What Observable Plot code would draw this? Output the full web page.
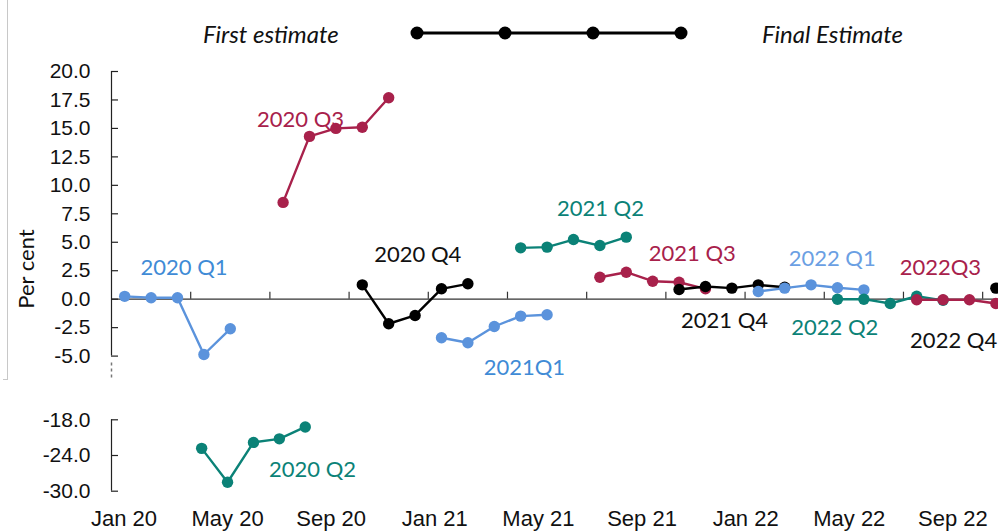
<!DOCTYPE html>
<html><head><meta charset="utf-8">
<script src="https://cdn.jsdelivr.net/npm/d3@7"></script>
<script src="https://cdn.jsdelivr.net/npm/@observablehq/plot@0.6"></script>
<style>
body{margin:0;background:#fff;}
#wrap{position:relative;width:998px;height:531px;overflow:hidden;background:#fff;font-family:Lato,sans-serif;}
#border{position:absolute;left:3px;top:-1px;width:4px;height:380px;border-right:1px solid #c8c8c8;border-bottom:1px solid #c8c8c8;}
.lg{position:absolute;top:33px;transform:translateY(-50%);font-family:Lato,sans-serif;font-style:italic;font-size:24px;color:#111;white-space:nowrap;}
#legsvg{position:absolute;left:405px;top:20px;}
#ylabel{position:absolute;left:25px;top:269px;transform:translate(-50%,-50%) rotate(-90deg);font-family:Lato,sans-serif;font-size:22px;color:#111;white-space:nowrap;}
#top{position:absolute;left:0;top:55px;}
#bottom{position:absolute;left:0;top:380px;}
</style></head><body>
<div id="wrap">
  <div id="border"></div>
  <div class="lg" style="left:203px">First estimate</div>
  <svg id="legsvg" width="290" height="26">
    <line x1="12" y1="13" x2="276" y2="13" stroke="#000" stroke-width="3"/>
    <circle cx="12" cy="13" r="6.5" fill="#000"/><circle cx="100" cy="13" r="6.5" fill="#000"/>
    <circle cx="188" cy="13" r="6.5" fill="#000"/><circle cx="276" cy="13" r="6.5" fill="#000"/>
  </svg>
  <div class="lg" style="left:762px">Final Estimate</div>
  <div id="ylabel">Per cent</div>
  <div id="top"></div>
  <div id="bottom"></div>
</div>
<script>
// ---- data ----
const seriesNames = ["2020 Q1","2020 Q2","2020 Q3","2020 Q4","2021Q1","2021 Q2","2021 Q3","2021 Q4","2022 Q1","2022 Q2","2022Q3","2022 Q4"];
const seriesStart = [0, 3, 6, 9, 12, 15, 18, 21, 24, 27, 30, 33]; // month index of first estimate
const v2020Q1 = [0.25, 0.12, 0.12, -4.86, -2.6];
const v2020Q2 = [-22.8, -28.5, -21.8, -21.2, -19.2];
const v2020Q3 = [8.5, 14.3, 15.0, 15.1, 17.7];
const v2020Q4 = [1.26, -2.16, -1.43, 0.91, 1.35];
const v2021Q1 = [-3.39, -3.83, -2.4, -1.49, -1.37];
const v2021Q2 = [4.51, 4.57, 5.24, 4.71, 5.45];
const v2021Q3 = [1.93, 2.37, 1.58, 1.49, 0.91];
const v2021Q4 = [0.85, 1.11, 0.97, 1.26, 1.05];
const v2022Q1 = [0.68, 0.97, 1.26, 1.0, 0.82];
const v2022Q2 = [0.0, 0.0, -0.38, 0.26, -0.1];
const v2022Q3 = [-0.05, -0.05, -0.05, -0.38];
const v2022Q4 = [0.97];
const seriesValues = [v2020Q1, v2020Q2, v2020Q3, v2020Q4, v2021Q1, v2021Q2, v2021Q3, v2021Q4, v2022Q1, v2022Q2, v2022Q3, v2022Q4];
const seriesColors = ["#5b93dc","#0b8277","#a8214b","#000000","#5b93dc","#0b8277","#a8214b","#000000","#5b93dc","#0b8277","#a8214b","#000000"];
const labelColors = ["#3f8bd6","#0b8277","#a8214b","#111111","#3f8bd6","#0b8277","#a8214b","#111111","#6b9fe3","#0b8277","#a8214b","#111111"];
// label anchors (month index, value)
const labelMonth = [2.25, 7.28, 6.66, 11.1, 15.14, 18.02, 21.5, 22.72, 26.8, 26.9, 30.9, 31.4];
const labelValue = [2.7, -26.5, 15.7, 3.92, -6.0, 7.96, 4.0, -1.87, 3.57, -2.57, 2.78, -3.63];
const monthTicks = [0, 4, 8, 12, 16, 20, 24, 28, 32];
const monthTickLabels = ["Jan 20","May 20","Sep 20","Jan 21","May 21","Sep 21","Jan 22","May 22","Sep 22"];
const quarterBounds = [2.5, 5.5, 8.5, 11.5, 14.5, 17.5, 20.5, 23.5, 26.5, 29.5, 32.5];
const yTicksTop = [-5, -2.5, 0, 2.5, 5, 7.5, 10, 12.5, 15, 17.5, 20];
const yTicksBottom = [-30, -24, -18];
const xDomainTop = [-0.5, 33.1];
const xDomainBottom = [-0.48, 33.76];
const bottomSeries = ["2020 Q2"];

// ---- build ----
const rows = seriesNames.flatMap((s, k) => seriesValues[k].map((v, j) => ({series: s, month: seriesStart[k] + j, value: v, k})));
const labels = seriesNames.map((s, k) => ({series: s, month: labelMonth[k], value: labelValue[k], k}));

function seriesMarks(filterFn) {
  const marks = [];
  seriesNames.forEach((s, k) => {
    if (!filterFn(s)) return;
    const d = rows.filter(r => r.k === k);
    marks.push(Plot.line(d, {x: "month", y: "value", stroke: seriesColors[k], strokeWidth: 2.4}));
    marks.push(Plot.dot(d, {x: "month", y: "value", fill: seriesColors[k], r: 5.7}));
  });
  return marks;
}
function labelMarks(filterFn) {
  return seriesNames.map((s, k) => filterFn(s) ? Plot.text([labels[k]], {x: "month", y: "value", text: "series", fill: labelColors[k], fontSize: 22, fontFamily: "Lato"}) : null).filter(Boolean);
}

const frameW = 998 - 111;
const topPlot = Plot.plot({
  width: 998, height: 325,
  marginLeft: 111, marginRight: 0, marginTop: 16, marginBottom: 24.4,
  x: {domain: xDomainTop, axis: null},
  y: {domain: [-5, 20], axis: null},
  style: {fontFamily: "Liberation Sans", fontSize: "21px", color: "#111", background: "transparent", overflow: "visible"},
  marks: [
    ...labelMarks(s => !bottomSeries.includes(s)),
    Plot.ruleY([0], {stroke: "#333", strokeWidth: 1.2}),
    Plot.ruleX(quarterBounds, {x: d => d, y1: 0, y2: 0, insetTop: -7, stroke: "#333", strokeWidth: 1.2}),
    Plot.ruleX([xDomainTop[0]], {y1: -5, y2: 20, stroke: "#222", strokeWidth: 1.2}),
    Plot.ruleX([xDomainTop[0]], {y1: -5.6, y2: -7, stroke: "#777", strokeWidth: 1.5, strokeDasharray: "3,3"}),
    Plot.tickY(yTicksTop, {y: d => d, insetRight: frameW - 7, stroke: "#222", strokeWidth: 1.2}),
    Plot.axisY({ticks: yTicksTop, tickFormat: d => d.toFixed(1), tickSize: 0, tickPadding: 21, fontSize: 21, label: null, fill: "#111"}),
    ...seriesMarks(s => !bottomSeries.includes(s))
  ]
});
document.getElementById("top").appendChild(topPlot);

const bottomPlot = Plot.plot({
  width: 998, height: 151,
  marginLeft: 111, marginRight: 0, marginTop: 39.3, marginBottom: 40.3,
  x: {domain: xDomainBottom, axis: null},
  y: {domain: [-30, -18], axis: null},
  style: {fontFamily: "Liberation Sans", fontSize: "21px", color: "#111", background: "transparent", overflow: "visible"},
  marks: [
    ...labelMarks(s => bottomSeries.includes(s)),
    Plot.ruleX([xDomainBottom[0]], {y1: -30, y2: -18, stroke: "#222", strokeWidth: 1.2}),
    Plot.tickY(yTicksBottom, {y: d => d, insetRight: frameW - 7, stroke: "#222", strokeWidth: 1.2}),
    Plot.axisY({ticks: yTicksBottom, tickFormat: d => d.toFixed(1), tickSize: 0, tickPadding: 21, fontSize: 21, label: null, fill: "#111"}),
    Plot.axisX({ticks: monthTicks, tickFormat: d => monthTickLabels[monthTicks.indexOf(d)], tickSize: 0, tickPadding: 19, fontSize: 22, label: null, fill: "#111"}),
    ...seriesMarks(s => bottomSeries.includes(s))
  ]
});
document.getElementById("bottom").appendChild(bottomPlot);
</script>
</body></html>
